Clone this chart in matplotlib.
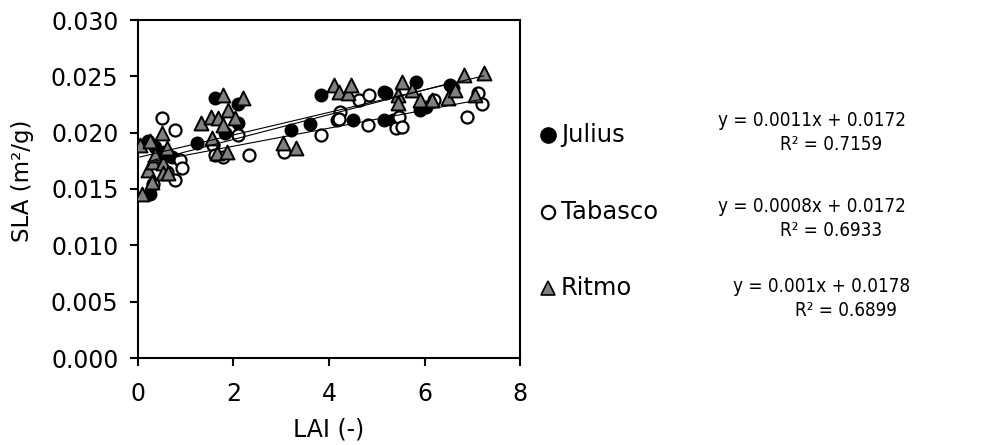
import numpy as np
import matplotlib
matplotlib.use("Agg")
import matplotlib.pyplot as plt
from matplotlib import font_manager

# data (LAI, SLA)
julius_lai = [0.25, 0.21, 0.36, 0.72, 0.55, 1.24, 1.62, 2.10, 1.83, 2.10, 3.20, 3.60,
              3.83, 4.17, 4.50, 5.16, 5.16, 5.20, 5.35, 5.83, 5.90, 6.04, 6.53, 6.60]
julius_sla = [0.0146, 0.0193, 0.0187, 0.0178, 0.0183, 0.0191, 0.0231, 0.0225, 0.0200,
              0.0209, 0.0202, 0.0208, 0.0233, 0.0211, 0.0211, 0.0236, 0.0211, 0.0235,
              0.0211, 0.0245, 0.0220, 0.0223, 0.0242, 0.0240]

tabasco_lai = [0.32, 0.51, 0.78, 0.88, 0.93, 0.78, 0.60, 0.40, 1.58, 1.62, 1.79, 2.10,
               2.32, 3.05, 3.83, 4.23, 4.63, 4.84, 4.82, 5.41, 5.47, 5.52, 6.19, 6.88,
               7.13, 7.20, 4.20]
tabasco_sla = [0.0154, 0.0213, 0.0202, 0.0176, 0.0169, 0.0158, 0.0165, 0.0175, 0.0189,
               0.0180, 0.0178, 0.0198, 0.0180, 0.0183, 0.0198, 0.0218, 0.0229, 0.0233,
               0.0207, 0.0204, 0.0214, 0.0205, 0.0229, 0.0214, 0.0235, 0.0225, 0.0212]

ritmo_lai = [0.04, 0.08, 0.21, 0.25, 0.29, 0.32, 0.36, 0.50, 0.53, 0.53, 0.61, 0.63,
             1.31, 1.52, 1.56, 1.66, 1.68, 1.77, 1.79, 1.87, 1.89, 2.04, 2.19, 3.03,
             3.30, 4.10, 4.20, 4.40, 4.46, 5.45, 5.45, 5.52, 5.73, 5.90, 6.15, 6.50,
             6.63, 6.82, 7.05, 7.24]
ritmo_sla = [0.0189, 0.0146, 0.0167, 0.0193, 0.0156, 0.0174, 0.0180, 0.0200, 0.0173,
             0.0164, 0.0186, 0.0164, 0.0209, 0.0214, 0.0195, 0.0182, 0.0213, 0.0233,
             0.0207, 0.0183, 0.0220, 0.0213, 0.0231, 0.0191, 0.0186, 0.0242, 0.0236,
             0.0235, 0.0242, 0.0233, 0.0226, 0.0245, 0.0238, 0.0229, 0.0229, 0.0231,
             0.0238, 0.0251, 0.0233, 0.0253]

# trendline coefficients as printed on the chart
slopes = [0.0011, 0.0008, 0.001]
intercepts = [0.0172, 0.0172, 0.0178]
r2 = ["0.7159", "0.6933", "0.6899"]
eq_lines = ["y = 0.0011x + 0.0172", "y = 0.0008x + 0.0172", "y = 0.001x + 0.0178"]
names = ["Julius", "Tabasco", "Ritmo"]

plt.rcParams['font.family'] = ['DejaVu Sans']
W, H = 995, 445

# narrower face for the trendline labels, if a condensed DejaVu is around
cond = [f.fname for f in font_manager.fontManager.ttflist
        if f.name == 'DejaVu Sans' and f.stretch == 'condensed' and f.style == 'normal'
        and f.weight in (400, 'normal')]
if cond:
    eq_font = dict(fontproperties=font_manager.FontProperties(fname=cond[0], size=13.5))
else:
    eq_font = dict(family='Liberation Sans', fontsize=15)

fig = plt.figure(figsize=(W / 100, H / 100), dpi=100)
ax = fig.add_axes([138 / W, 1 - 358 / H, (520 - 138) / W, (358 - 20) / H])

ax.scatter(julius_lai, julius_sla, s=80, marker='o', facecolor='black',
           edgecolor='black', linewidths=1.1, zorder=3)
ax.scatter(tabasco_lai, tabasco_sla, s=75, marker='o', facecolor='white',
           edgecolor='black', linewidths=1.6, zorder=4)
ax.scatter(ritmo_lai, ritmo_sla, s=100, marker='^', facecolor='#808080',
           edgecolor='black', linewidths=1.4, zorder=5)

# linear trendlines
for xs, a, b in zip([julius_lai, tabasco_lai, ritmo_lai], slopes, intercepts):
    xx = np.array([min(xs), max(xs)])
    ax.plot(xx, a * xx + b, color='black', lw=0.8, zorder=6)

ax.set_xlim(0, 8)
ax.set_ylim(0, 0.030)
ax.set_xticks([0, 2, 4, 6, 8])
yt = np.arange(0, 0.0301, 0.005)
ax.set_yticks(yt)
ax.set_yticklabels([f"{v:.3f}" for v in yt])
ax.tick_params(direction='out', length=6, width=1.5, labelsize=17,
               top=False, right=False)
ax.tick_params(axis='y', pad=8)
ax.tick_params(axis='x', pad=11)
for sp in ax.spines.values():
    sp.set_linewidth(1.5)

fig.text(329 / W, 1 - 429 / H, "LAI (-)", fontsize=17, ha='center', va='center')
fig.text(22 / W, 1 - 181 / H, "SLA (m²/g)", fontsize=16.5, ha='center',
         va='center', rotation=90)

# legend built manually to follow the reference layout
leg_y = [135, 212, 288]
styles = [dict(marker='o', mfc='black', mec='black', ms=11),
          dict(marker='o', mfc='white', mec='black', ms=9.5, mew=1.6),
          dict(marker='^', mfc='#808080', mec='black', ms=10, mew=1.2)]
for yy, nm, st in zip(leg_y, names, styles):
    fy = 1 - yy / H
    fig.lines.append(plt.Line2D([548 / W], [fy], transform=fig.transFigure,
                                linestyle='none', **st))
    fig.text(561 / W, fy, nm, fontsize=17.5, va='center', ha='left')

eq_y1 = [121, 207, 286]
eq_y2 = [145, 230, 311]
eq_x1 = [718, 718, 733]
eq_x2 = [780, 780, 795]
for i in range(3):
    fig.text(eq_x1[i] / W, 1 - eq_y1[i] / H, eq_lines[i], va='center', ha='left',
             **eq_font)
    fig.text(eq_x2[i] / W, 1 - eq_y2[i] / H, "R² = " + r2[i], va='center',
             ha='left', **eq_font)

fig.savefig("out.png", dpi=100)
